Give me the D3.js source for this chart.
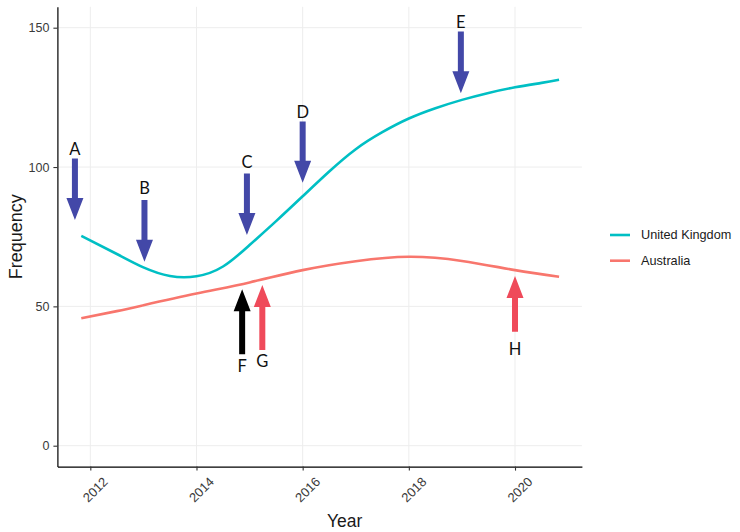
<!DOCTYPE html>
<html>
<head>
<meta charset="utf-8">
<script src="https://cdn.jsdelivr.net/npm/d3@7"></script>
<style>
  body { margin: 0; background: #fff; }
  svg { display: block; }
</style>
</head>
<body>
<svg id="chart" width="740" height="532"></svg>
<script>
// ---------- data ----------
const seriesNames = ["United Kingdom", "Australia"];
const seriesColors = ["#00BFC4", "#F8766D"];

const ukYears = [2011.83, 2012.5, 2013, 2013.5, 2014, 2014.5, 2015, 2015.5, 2016, 2016.5, 2017, 2017.5, 2018, 2018.5, 2019, 2019.5, 2020, 2020.5, 2020.83];
const ukValues = [75.3, 68.8, 64.0, 60.9, 60.8, 64.3, 72.0, 80.6, 89.5, 98.4, 106.4, 112.5, 117.4, 121.1, 124.1, 126.6, 128.6, 130.2, 131.3];

const auYears = [2011.83, 2012.5, 2013, 2014, 2015, 2016, 2017, 2018, 2019, 2020, 2020.83];
const auValues = [45.7, 48.3, 50.4, 54.6, 58.6, 63.0, 66.2, 67.8, 66.3, 63.0, 60.6];

const xTicks = [2012, 2014, 2016, 2018, 2020];
const yTicks = [0, 50, 100, 150];

// annotations: label, year, tail value, tip value, label value, colour
const arrowLabels = ["A", "B", "C", "D", "E", "F", "G", "H"];
const arrowYears  = [2011.71, 2013.02, 2014.95, 2016.0, 2018.98, 2014.86, 2015.24, 2020.0];
const arrowTails  = [103.1, 88.2, 97.7, 116.3, 148.6, 32.8, 34.3, 40.9];
const arrowTips   = [81.0, 66.0, 75.6, 94.4, 126.5, 56.1, 57.7, 60.9];
const arrowLabelY = [104.3, 90.2, 99.8, 117.7, 150.0, 26.6, 28.3, 32.5];
const arrowColors = ["#4348A8", "#4348A8", "#4348A8", "#4348A8", "#4348A8", "#000000", "#EF4A5A", "#EF4A5A"];

// ---------- layout ----------
const svg = d3.select("#chart");
const x = d3.scaleLinear().domain([2011.38, 2021.26]).range([57.4, 581.9]);
const y = d3.scaleLinear().domain([-7.5, 157.5]).range([466.6, 6.8]);

const axisFont = "'Liberation Sans', Arial, sans-serif";

// grid
const grid = svg.append("g");
grid.selectAll(".gx").data(xTicks).join("line")
  .attr("x1", d => x(d)).attr("x2", d => x(d))
  .attr("y1", y.range()[1]).attr("y2", y.range()[0])
  .attr("stroke", "#ededed").attr("stroke-width", 1);
grid.selectAll(".gy").data(yTicks).join("line")
  .attr("y1", d => y(d)).attr("y2", d => y(d))
  .attr("x1", x.range()[0]).attr("x2", x.range()[1])
  .attr("stroke", "#ededed").attr("stroke-width", 1);

// lines
const line = d3.line().x(d => x(d[0])).y(d => y(d[1])).curve(d3.curveNatural);
const ukData = ukYears.map((d, i) => [d, ukValues[i]]);
const auData = auYears.map((d, i) => [d, auValues[i]]);
[ukData, auData].forEach((dat, i) => {
  svg.append("path").datum(dat).attr("d", line)
    .attr("fill", "none").attr("stroke", seriesColors[i]).attr("stroke-width", 2.6);
});

// axes
const yAxis = svg.append("g").attr("transform", `translate(${x.range()[0]},0)`)
  .call(d3.axisLeft(y).tickValues(yTicks).tickSize(4).tickPadding(4).tickSizeOuter(0));
const xAxis = svg.append("g").attr("transform", `translate(0,${y.range()[0]})`)
  .call(d3.axisBottom(x).tickValues(xTicks).tickFormat(d3.format("d")).tickSize(4).tickSizeOuter(0));
[yAxis, xAxis].forEach(g => {
  g.attr("font-family", axisFont).attr("font-size", 12.5);
  g.select(".domain").attr("stroke", "#000").attr("stroke-width", 1.2);
  g.selectAll(".tick line").attr("stroke", "#333").attr("stroke-width", 1.1);
  g.selectAll(".tick text").attr("fill", "#3a3a3a");
});
xAxis.selectAll(".tick text")
  .attr("font-size", 13)
  .attr("text-anchor", "middle")
  .attr("dominant-baseline", "central")
  .attr("x", 0).attr("y", 0).attr("dy", null)
  .attr("transform", "translate(4.5,23) rotate(-45)");

// axis titles
svg.append("text").attr("x", (x.range()[0] + x.range()[1]) / 2 + 25).attr("y", 527)
  .attr("text-anchor", "middle").attr("font-family", axisFont).attr("font-size", 17.5)
  .attr("fill", "#1a1a1a").text("Year");
svg.append("text").attr("transform", `translate(22,${(y.range()[0] + y.range()[1]) / 2}) rotate(-90)`)
  .attr("text-anchor", "middle").attr("font-family", axisFont).attr("font-size", 18)
  .attr("fill", "#1a1a1a").text("Frequency");

// arrows
const headLen = 22, headW = 17, shaftW = 6;
const arrows = svg.append("g");
arrowLabels.forEach((lab, i) => {
  const cx = x(arrowYears[i]);
  const yTail = y(arrowTails[i]);
  const yTip = y(arrowTips[i]);
  const dir = yTip > yTail ? 1 : -1;
  const yHead = yTip - dir * headLen;
  const p = [
    [cx - shaftW / 2, yTail], [cx + shaftW / 2, yTail], [cx + shaftW / 2, yHead],
    [cx + headW / 2, yHead], [cx, yTip], [cx - headW / 2, yHead], [cx - shaftW / 2, yHead]
  ];
  arrows.append("path").attr("d", "M" + p.map(q => q.join(",")).join("L") + "Z")
    .attr("fill", arrowColors[i]);
  arrows.append("text").attr("x", cx).attr("y", y(arrowLabelY[i]))
    .attr("text-anchor", "middle").attr("font-family", "Lato, 'Open Sans', sans-serif")
    .attr("font-size", 16.5).attr("fill", "#111").text(lab);
});

// legend
const legend = svg.append("g");
const legendY = [235, 260.7];
seriesNames.forEach((name, i) => {
  legend.append("line").attr("x1", 610).attr("x2", 630)
    .attr("y1", legendY[i]).attr("y2", legendY[i])
    .attr("stroke", seriesColors[i]).attr("stroke-width", 2.6);
  legend.append("text").attr("x", 641).attr("y", legendY[i]).attr("dy", "0.35em")
    .attr("font-family", axisFont).attr("font-size", 12.7).attr("fill", "#1a1a1a").text(name);
});
</script>
</body>
</html>
